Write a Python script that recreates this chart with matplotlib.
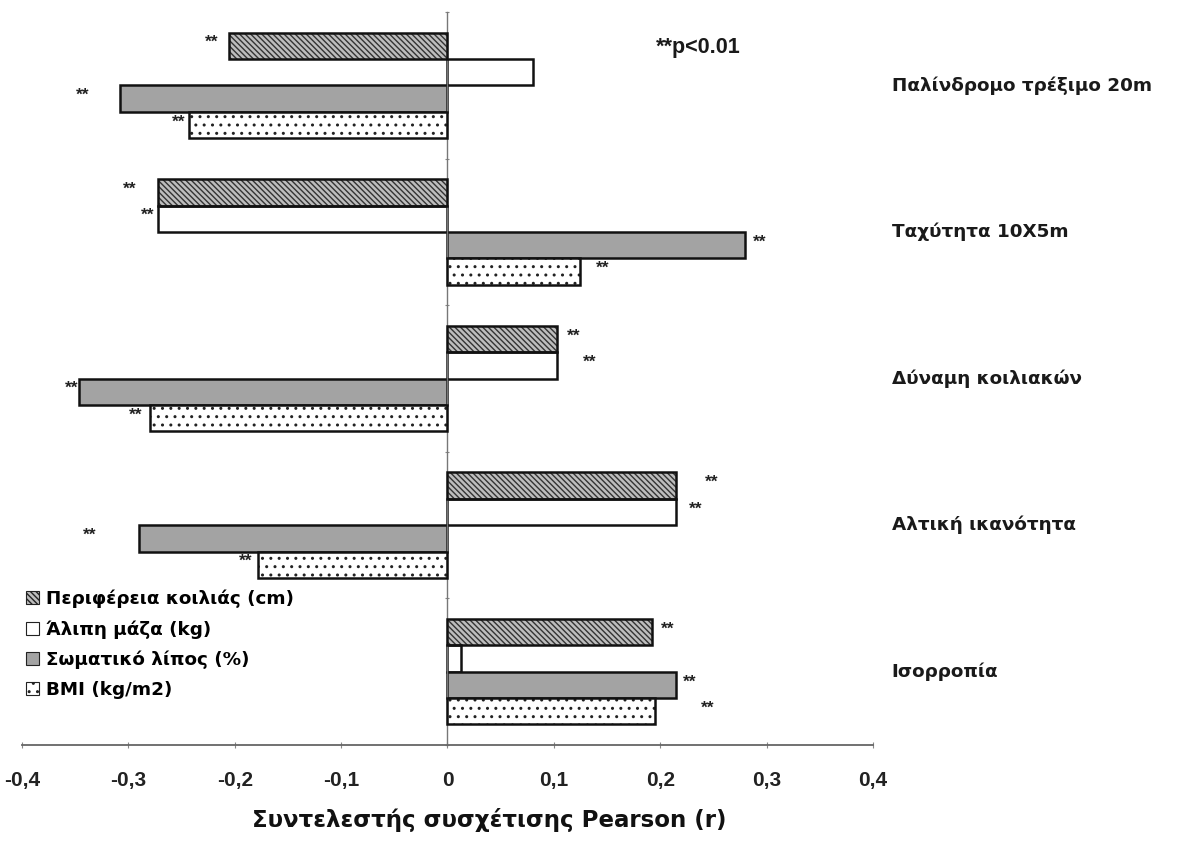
import matplotlib
matplotlib.use('Agg')
import matplotlib.pyplot as plt
import matplotlib.transforms as mtransforms
from matplotlib.patches import Patch
import numpy as np

# Data (Pearson r)
groups = ['Παλίνδρομο τρέξιμο 20m', 'Ταχύτητα 10X5m', 'Δύναμη κοιλιακών',
          'Αλτική ικανότητα', 'Ισορροπία']
series = ['Περιφέρεια κοιλιάς (cm)', 'Άλιπη μάζα (kg)', 'Σωματικό λίπος (%)', 'BMI (kg/m2)']
waist = [-0.205, -0.272, 0.103, 0.215, 0.192]
lean_mass = [0.080, -0.272, 0.103, 0.215, 0.013]
body_fat = [-0.308, 0.280, -0.346, -0.290, 0.215]
bmi = [-0.243, 0.125, -0.280, -0.178, 0.195]
# significance (** p<0.01) per group, same order as series
sig = [[1, 0, 1, 1],
       [1, 1, 1, 1],
       [1, 1, 1, 1],
       [1, 1, 1, 1],
       [1, 0, 1, 1]]
xticks = [-0.4, -0.3, -0.2, -0.1, 0, 0.1, 0.2, 0.3, 0.4]
xticklabels = ['-0,4', '-0,3', '-0,2', '-0,1', '0', '0,1', '0,2', '0,3', '0,4']

# pixel offsets of the ** markers from the bar ends (layout only)
star_dx = [[-18, 0, -37, -10],
           [-29, -11, 14, 22],
           [17, 33, -8, -14],
           [35, 19, -49, -12],
           [16, 0, 13, 53]]

plt.rcParams['font.family'] = ['Liberation Sans', 'DejaVu Sans']
plt.rcParams['font.weight'] = 'bold'
plt.rcParams['hatch.linewidth'] = 1.0

fig = plt.figure(figsize=(11.77, 8.59), dpi=100)
ax = fig.add_axes([0.0187, 0.1327, 0.723, 0.8533])

values = [waist, lean_mass, body_fat, bmi]
styles = [dict(facecolor='#bdbdbd', hatch='\\\\\\\\\\\\', hatch_edge='#333333'),
          dict(facecolor='white', hatch=None, hatch_edge=None),
          dict(facecolor='#a3a3a3', hatch=None, hatch_edge=None),
          dict(facecolor='white', hatch='..', hatch_edge='#222222')]

bh = 0.18
y0 = np.arange(len(groups))
for s, (vals, st) in enumerate(zip(values, styles)):
    ys = y0 - 0.27 + s * bh
    if st['hatch']:
        ax.barh(ys, vals, height=bh, color=st['facecolor'], hatch=st['hatch'],
                edgecolor=st['hatch_edge'], linewidth=0, zorder=2)
        ax.barh(ys, vals, height=bh, fill=False, edgecolor='#111111', linewidth=1.8, zorder=3)
    else:
        ax.barh(ys, vals, height=bh, color=st['facecolor'], edgecolor='#111111',
                linewidth=1.8, zorder=2)
    for g in range(len(groups)):
        if sig[g][s]:
            ax.annotate('**', xy=(vals[g], ys[g]), xytext=(star_dx[g][s], 3),
                        textcoords='offset pixels', ha='center', va='center',
                        fontsize=12.5, fontweight='bold', color='#222222', zorder=4)

ax.set_xlim(-0.4, 0.4)
ax.set_ylim(4.5, -0.5)
ax.set_xticks(xticks)
ax.set_xticklabels(xticklabels, fontsize=15, fontweight='bold', color='#222222')
ax.tick_params(axis='x', length=4, width=0.8, color='#888888', pad=17, direction='inout')
ax.set_yticks(np.arange(-0.5, 5, 1))
ax.set_yticklabels([])
ax.tick_params(axis='y', length=3, width=0.8, color='#888888', direction='inout')

for side in ['top', 'right']:
    ax.spines[side].set_visible(False)
ax.spines['left'].set_position(('data', 0))
ax.spines['left'].set_color('#777777')
ax.spines['left'].set_linewidth(1.0)
ax.spines['bottom'].set_color('#666666')
ax.spines['bottom'].set_linewidth(1.3)

# group labels on the right
trans = mtransforms.blended_transform_factory(ax.transAxes, ax.transData)
for g, name in enumerate(groups):
    ax.text(1.022, y0[g], name, transform=trans, ha='left', va='center',
            fontsize=13.2, fontweight='bold', family='DejaVu Sans', color='#1a1a1a')

ax.text(0.745, 0.951, '**p<0.01', transform=ax.transAxes, ha='left', va='center',
        fontsize=15.5, fontweight='bold', color='#1a1a1a')

handles = [Patch(facecolor=st['facecolor'], hatch=st['hatch'], edgecolor='#222222',
                 linewidth=0.8) for st in styles]
ax.legend(handles, series, loc='upper left', bbox_to_anchor=(0.0, 0.217),
          frameon=False, handlelength=0.7, handleheight=0.7, handletextpad=0.4,
          labelspacing=0.65, borderaxespad=0, borderpad=0.2,
          prop={'size': 13.2, 'weight': 'bold', 'family': 'DejaVu Sans'})

fig.text(0.4155, 0.045, 'Συντελεστής συσχέτισης Pearson (r)', ha='center', va='center',
         fontsize=16.5, fontweight='bold', family='DejaVu Sans', color='#111111')

fig.savefig('out.png', dpi=100, facecolor='white')
